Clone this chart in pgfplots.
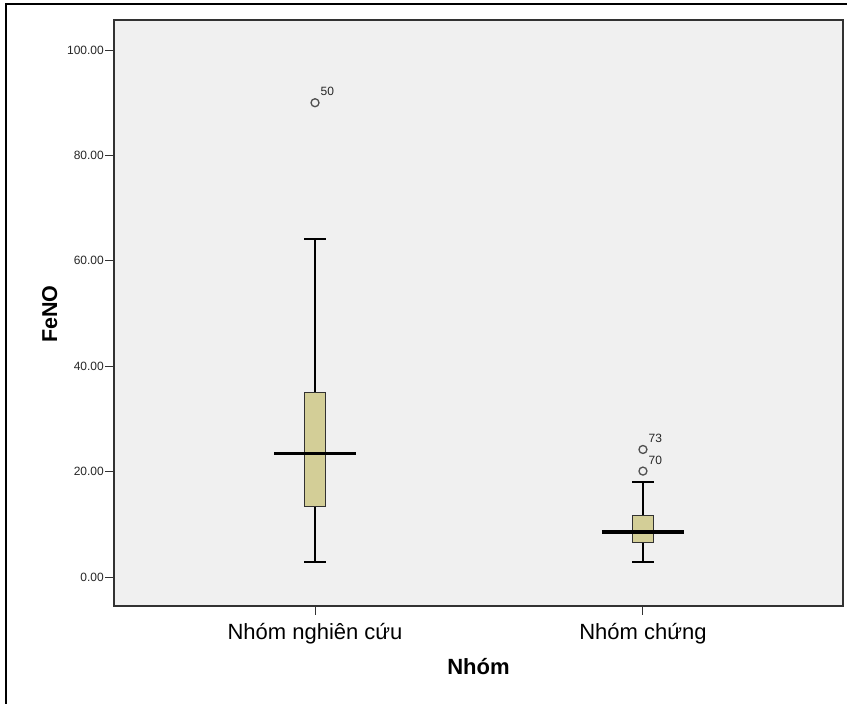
\documentclass[border=0pt]{standalone}
\usepackage{fontspec}
\setmainfont{Liberation Sans}
\usepackage{pgfplots}
\pgfplotsset{compat=1.18}
\definecolor{bgcol}{RGB}{240,240,240}
\definecolor{boxfill}{RGB}{211,206,151}
\definecolor{axcol}{RGB}{50,50,50}
\definecolor{markcol}{RGB}{80,80,80}
\begin{document}
\begin{tikzpicture}
\useasboundingbox (-114pt,-98pt) rectangle (733pt,606pt);
\draw[black, line width=1.5pt] (-108pt,-120pt) -- (-108pt,602pt) -- (760pt,602pt);
\begin{axis}[
  scale only axis, width=729pt, height=586pt,
  xmin=0.387, xmax=2.61, ymin=-5.5, ymax=105.7,
  axis background/.style={fill=bgcol},
  axis line style={draw=axcol, line width=1.5pt},
  xtick={1,2}, xticklabels={Nhóm nghiên cứu, Nhóm chứng},
  ytick={0,20,40,60,80,100},
  tick align=outside, tick pos=left,
  major tick length=9pt,
  every tick/.style={axcol, line width=1pt},
  yticklabel style={font=\fontsize{12}{14}\selectfont, text=black!85, inner sep=1pt, /pgf/number format/fixed, /pgf/number format/fixed zerofill, /pgf/number format/precision=2, /pgf/number format/assume math mode=true},
  xticklabel style={font=\fontsize{22}{26}\selectfont, anchor=base, yshift=-25pt},
  xlabel={Nhóm},
  xlabel style={font=\fontsize{22}{26}\selectfont\bfseries, at={(axis description cs:0.5,-0.1177)}, anchor=base},
  ylabel={FeNO},
  ylabel style={font=\fontsize{21.5}{26}\selectfont\bfseries, at={(axis description cs:-0.0882,0.498)}, anchor=center},
  clip=false,
]
% group 1: whiskers
\addplot[black, line width=2pt] coordinates {(1,35.1) (1,64.1)};
\addplot[black, line width=2pt] coordinates {(0.967,64.1) (1.033,64.1)};
\addplot[black, line width=2pt] coordinates {(1,13.3) (1,2.85)};
\addplot[black, line width=2pt] coordinates {(0.967,2.85) (1.033,2.85)};
% group 1: box
\addplot[draw=axcol, fill=boxfill, line width=1pt] coordinates {(0.967,13.3) (1.033,13.3) (1.033,35.1) (0.967,35.1) (0.967,13.3)};
% group 2: whiskers
\addplot[black, line width=2pt] coordinates {(2,11.76) (2,17.97)};
\addplot[black, line width=2pt] coordinates {(1.967,17.97) (2.033,17.97)};
\addplot[black, line width=2pt] coordinates {(2,6.5) (2,2.79)};
\addplot[black, line width=2pt] coordinates {(1.967,2.79) (2.033,2.79)};
% group 2: box
\addplot[draw=axcol, fill=boxfill, line width=1pt] coordinates {(1.967,6.5) (2.033,6.5) (2.033,11.76) (1.967,11.76) (1.967,6.5)};
% medians
\addplot[black, line width=3.3pt] coordinates {(0.875,23.5) (1.125,23.5)};
\addplot[black, line width=3.3pt] coordinates {(1.875,8.54) (2.125,8.54)};
% outliers
\addplot[only marks, mark=o, mark size=4pt, mark options={draw=markcol, line width=1.3pt}, nodes near coords, point meta=explicit symbolic, every node near coord/.append style={anchor=base west, inner sep=0pt, xshift=5pt, yshift=7pt, font=\fontsize{12}{14}\selectfont, text=black!85}] coordinates {(1,90.0) [50] (2,24.2) [73] (2,20.1) [70]};
\end{axis}
\end{tikzpicture}
\end{document}
